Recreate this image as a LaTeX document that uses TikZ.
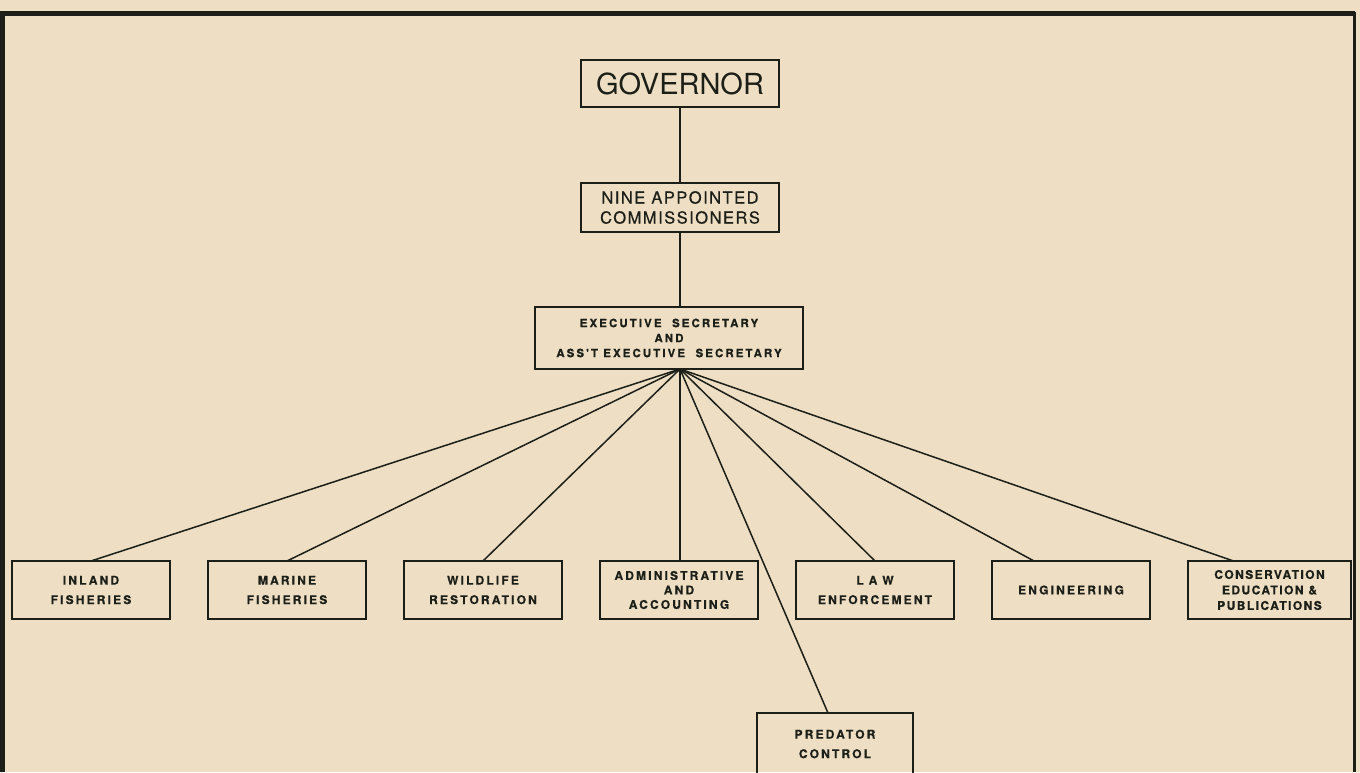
\documentclass[tikz,border=0pt]{standalone}
\usepackage{fontspec}
\setsansfont{TeX Gyre Heros}
\newfontfamily\boxfont[LetterSpace=18, BoldFeatures={FakeBold=0.6}]{TeX Gyre Heros}
\newfontfamily\capfont[LetterSpace=9, FakeBold=0.4]{TeX Gyre Heros}
\newfontfamily\tightfont[LetterSpace=12, BoldFeatures={FakeBold=0.6}]{TeX Gyre Heros}
\usetikzlibrary{positioning,calc}
\definecolor{paper}{RGB}{238,223,196}
\definecolor{ink}{RGB}{28,30,24}

\begin{document}
\begin{tikzpicture}[x=1pt, y=-1pt, node distance=38pt, every text node part/.style={align=center},
    office/.style={draw=ink, line width=1.8pt, rectangle, inner sep=0pt, outer sep=0pt, text=ink},
    unit/.style={office, minimum width=158pt, minimum height=58pt, font=\boxfont\bfseries\fontsize{12}{19.5}\selectfont},
    link/.style={draw=ink, line width=1.5pt}]
    \fill [paper] (0,0) rectangle (1360,772);
    \useasboundingbox (0,0) rectangle (1360,772);
    % frame of the sheet
    \draw [ink, line width=5pt] (2.5,772) -- (2.5,13.5) -- (1355,13.5);
    \draw [ink, line width=3pt] (1354,12) -- (1354,772);

    \node [office, minimum width=198pt, minimum height=47pt, font=\sffamily\fontsize{29}{29}\selectfont] (gov) at (680,83.5) {GOVERNOR};
    \node [office, minimum width=198pt, minimum height=49pt, below=76pt of gov, font=\capfont\fontsize{16.5}{20}\selectfont] (board) {NINE APPOINTED\\COMMISSIONERS};
    \node [office, minimum width=268pt, minimum height=62pt, below=75pt of board, xshift=-11pt, font=\boxfont\bfseries\fontsize{11.5}{15}\selectfont] (exec) {EXECUTIVE\ \ SECRETARY\\AND\\ASS'T EXECUTIVE\ \ SECRETARY};
    \coordinate (hub) at (gov.south |- exec.south);

    \node [unit] (inland) at (91,590) {INLAND\\FISHERIES};
    \node [unit, right=of inland] (marine) {MARINE\\FISHERIES};
    \node [unit, right=of marine] (wildlife) {WILDLIFE\\RESTORATION};
    \node [unit, right=of wildlife, font=\boxfont\bfseries\fontsize{12}{14.5}\selectfont] (admin) {ADMINISTRATIVE\\AND\\ACCOUNTING};
    \node [unit, right=of admin] (law) {L\hspace{5pt}A\hspace{5pt}W\\ENFORCEMENT};
    \node [unit, right=of law] (eng) {ENGINEERING};
    \node [unit, right=of eng, minimum width=163pt, font=\tightfont\bfseries\fontsize{12}{15.5}\selectfont] (cons) {CONSERVATION\\EDUCATION \&\\PUBLICATIONS};
    \node [unit, minimum width=156pt, minimum height=62pt] (predator) at (835,744) {PREDATOR\\CONTROL};

    \draw [link] (gov) -- (board);
    \draw [link] (board) -- (board |- exec.north);
    \draw [link] (hub) -- (inland.north);
    \draw [link] (hub) -- (marine.north);
    \draw [link] (hub) -- (wildlife.north);
    \draw [link] (hub) -- (hub |- admin.north);
    \draw [link] (hub) -- ([xshift=-7pt]predator.north);
    \draw [link] (hub) -- (law.north);
    \draw [link] (hub) -- ([xshift=-37pt]eng.north);
    \draw [link] (hub) -- ([xshift=-36pt]cons.north);
\end{tikzpicture}
\end{document}
